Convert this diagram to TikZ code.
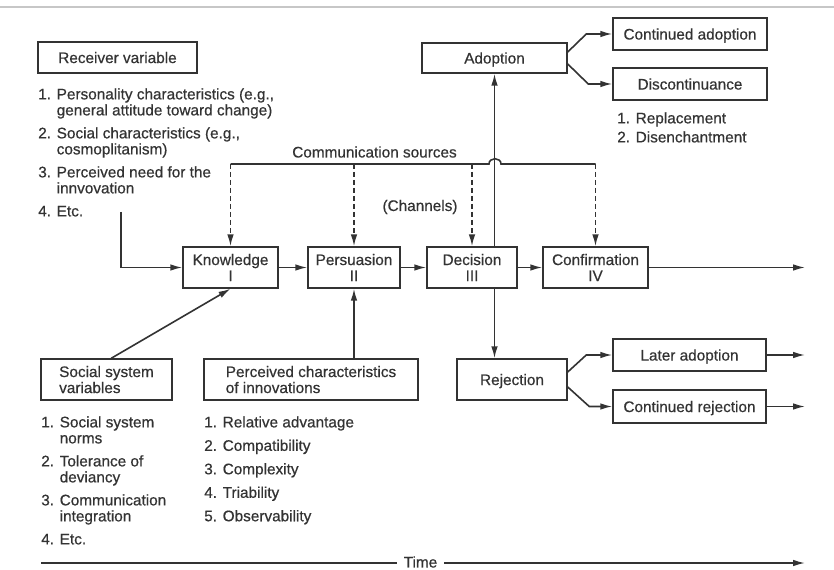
\documentclass[tikz,border=0pt]{standalone}
\usepackage{fontspec}
\setmainfont{Liberation Sans}
\newfontfamily\diagfont{Liberation Sans}[BoldFont={Liberation Sans},BoldFeatures={FakeBold=0.5}]
\usetikzlibrary{arrows.meta,calc}
\definecolor{ink}{HTML}{333333}
\tikzset{
  txt/.style={text=ink,font=\diagfont\bfseries\fontsize{11.5}{12}\selectfont},
  box/.style={txt,draw=ink,line width=1.1pt,inner sep=0pt,align=center,text depth=0pt},
  sz/.style 2 args={minimum width={#1*0.75pt},minimum height={#2*0.75pt}},
  link/.style={draw=ink,line width=1.2pt},
  arr/.style={link,-{Latex[length=9pt,width=5pt]}},
  dasharr/.style={arr,dash pattern=on 3.5pt off 2.5pt},
  lst/.style={txt,align=left,anchor=north west,inner sep=0pt}
}
\begin{document}
\begin{tikzpicture}[x=0.75pt,y=-0.75pt]

\fill[white] (0,0) rectangle (834,570);
\useasboundingbox (0,0) rectangle (834,570);
\draw[black!22,line width=0.8pt] (0,7) -- (834,7);

% antecedents
\node[box,sz={159}{31}] (rv) at (117.5,57.5) {Receiver variable};
\node[lst] (rvlist) at (38,88) {1. Personality characteristics (e.g.,\\
  \hphantom{1. }general attitude toward change)\\[5.25pt]
  2. Social characteristics (e.g.,\\
  \hphantom{2. }cosmoplitanism)\\[5.25pt]
  3. Perceived need for the\\
  \hphantom{3. }innvovation\\[5.25pt]
  4. Etc.};
\coordinate (rvend) at (121,212);

% the four stages
\node[box,sz={95}{41}] (kn) at (230.5,267.5) {Knowledge\\I};
\node[box,sz={92}{41}] (pe) at (354,267.5) {Persuasion\\II};
\node[box,sz={90}{41}] (de) at (472,267.5) {Decision\\III};
\node[box,sz={105}{41}] (co) at (595.5,267.5) {Confirmation\\IV};
\coordinate (coend) at (805,267.5);

% outcomes
\node[box,sz={145}{30}] (ad) at (494.5,58) {Adoption};
\node[box,sz={154}{32}] (ca) at (690,34) {Continued adoption};
\node[box,sz={154}{32}] (di) at (690,84) {Discontinuance};
\node[lst] (dilist) at (617,112) {1. Replacement\\[2.25pt]2. Disenchantment};
\node[box,sz={110}{41}] (rj) at (512,379.5) {Rejection};
\node[box,sz={153}{32}] (la) at (689.5,355) {Later adoption};
\node[box,sz={153}{33}] (cr) at (689.5,406.5) {Continued rejection};
\coordinate (laend) at (805,355);
\coordinate (crend) at (805,406.5);

% social system and perceived characteristics
\node[box,align=left,sz={131}{41}] (ss) at (106.5,379.5)
      {Social system\\variables};
\node[box,align=left,sz={214}{41}] (pc) at (311,379.5)
      {Perceived characteristics\\of innovations};
\node[lst] (sslist) at (41,416) {1. Social system\\
  \hphantom{1. }norms\\[5.25pt]
  2. Tolerance of\\
  \hphantom{2. }deviancy\\[5.25pt]
  3. Communication\\
  \hphantom{3. }integration\\[5.25pt]
  4. Etc.};
\node[lst] (pclist) at (204,416) {1. Relative advantage\\[5.6pt]
  2. Compatibility\\[5.6pt]
  3. Complexity\\[5.6pt]
  4. Triability\\[5.6pt]
  5. Observability};

% communication channels
\node[txt] (cs) at (374.5,152) {Communication sources};
\node[txt] (ch) at (420,207) {(Channels)};
\coordinate (bus) at (0,164);
\draw[link] (kn.north |- bus) -- (489,164)
  .. controls (489,157) and (501,157) .. (501,164) -- (co.north |- bus);
\foreach \n in {kn,pe,de,co}
  \draw[dasharr] (\n.north |- bus) -- (\n.north);

% flow between stages
\draw[arr] (rvend) |- (kn.west);
\draw[arr] (kn.east) -- (pe.west);
\draw[arr] (pe.east) -- (de.west);
\draw[arr] (de.east) -- (co.west);
\draw[arr] (co.east) -- (coend);
\draw[arr] ($(ss.north west)+(71,0)$) -- (kn.south);
\draw[arr] (pc.north -| pe.south) -- (pe.south);
\draw[arr] (de.north -| ad.south) -- (ad.south);
\draw[arr] (de.south -| ad.south) -- (rj.north -| ad.south);

% branches after adoption and rejection
\draw[arr] ($(ad.east)+(0,-6)$) -- ($(ca.west)+(-26,0)$) -- (ca.west);
\draw[arr] ($(ad.east)+(0,6)$) -- ($(di.west)+(-24,0)$) -- (di.west);
\draw[arr] ($(rj.east)+(0,-7.5)$) -- ($(la.west)+(-26,0)$) -- (la.west);
\draw[arr] ($(rj.east)+(0,7.5)$) -- ($(cr.west)+(-23,0)$) -- (cr.west);
\draw[arr] (la.east) -- (laend);
\draw[arr] (cr.east) -- (crend);

% time axis
\node[txt,inner xsep=5pt,inner ysep=0pt] (time) at (420.5,562) {Time};
\coordinate (tstart) at (41,563);
\coordinate (tend) at (805,563);
\draw[link] (tstart) -- (time.west |- tstart);
\draw[arr] (time.east |- tend) -- (tend);
\end{tikzpicture}
\end{document}
